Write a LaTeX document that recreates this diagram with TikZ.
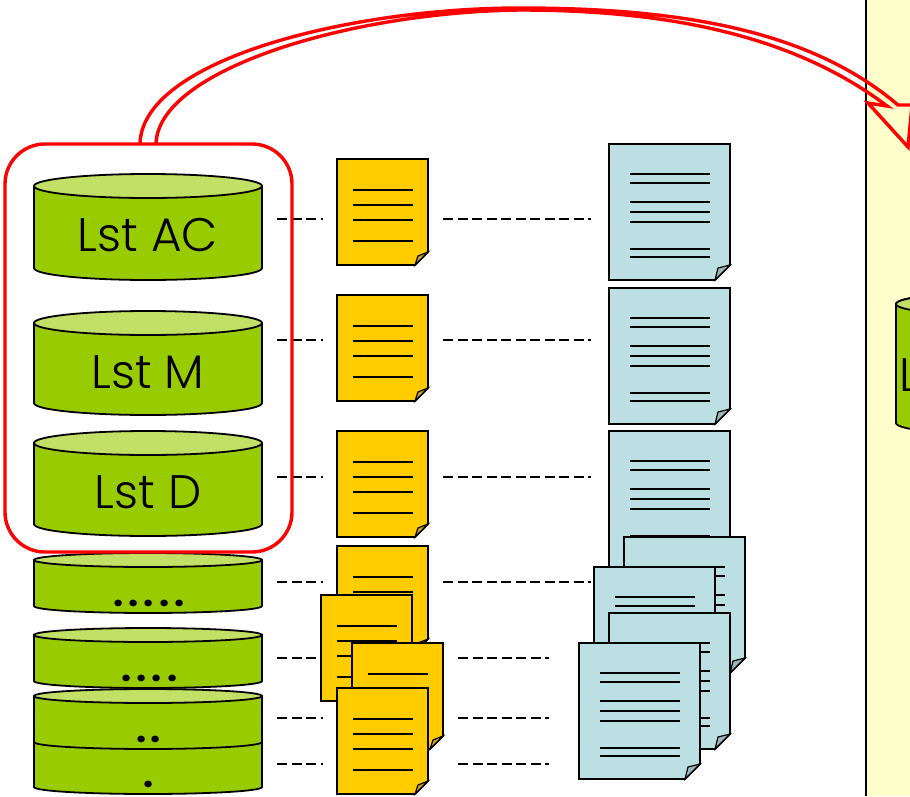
\documentclass[tikz,border=0pt]{standalone}
\usepackage{fontspec}
\setmainfont{Poppins}[UprightFont=* Light]
\newfontfamily\dotfont{Poppins}[UprightFont=* Bold]
\definecolor{drumgreen}{HTML}{99CC00}
\definecolor{drumtop}{HTML}{C2E066}
\definecolor{notegold}{HTML}{FFCC00}
\definecolor{pagecyan}{HTML}{BBDFE3}
\definecolor{paneyellow}{HTML}{FFFFCC}
\definecolor{foldcyan}{HTML}{9DB8BD}
\definecolor{foldgold}{HTML}{CFA71A}
\newcommand{\dotgap}{\kern5pt}
\tikzset{
  drumbody/.style={draw=black,line width=1.8pt,fill=drumgreen},
  drumend/.style={draw=black,line width=1.8pt,fill=drumtop},
  druglabel/.style={font=\fontsize{47}{47}\selectfont,inner sep=0pt},
  dotlabel/.style={font=\dotfont\fontsize{36}{36}\selectfont,inner sep=0pt,anchor=base},
  dashline/.style={line width=1.5pt,dash pattern=on 10pt off 4.5pt},
  goldnote/.style={draw=black,line width=1.8pt,fill=notegold},
  cyanpage/.style={draw=black,line width=1.8pt,fill=pagecyan},
  textline/.style={line width=1.5pt},
  redline/.style={draw=red,line width=3.4pt}
}
\begin{document}
\begin{tikzpicture}[x=1pt,y=-1pt]
\useasboundingbox (0,0) rectangle (910,796);
\clip (0,0) rectangle (910,796);

% right pane
\path[fill=paneyellow] (866,0) rectangle (910,796);
\draw[line width=1.8pt] (866,0) -- (866,796);
\draw[drumbody] (896,304) -- (896,423) .. controls (896,430) and (950,435) .. (1010,435)
  -- (1010,292) .. controls (950,292) and (896,297) .. cycle;
\draw[drumend] (1010,304) ellipse [x radius=114,y radius=12];
\node (labelR) [druglabel,anchor=base west] at (899,391) {L};

% list drums, last one of a stack goes first
\foreach \t/\b/\r in {186/268/12,323/403/12,443/524/12,560/606/7,635/681/7,720/787/7,696/742/7} {
  \draw[drumbody] (34,\t) -- (34,\b) .. controls (34,\b+\r*0.6) and (90,\b+\r) .. (148,\b+\r)
    .. controls (206,\b+\r) and (262,\b+\r*0.6) .. (262,\b) -- (262,\t) -- cycle;
  \draw[drumend] (148,\t) ellipse [x radius=114,y radius=\r];
}
\node (labelAC) [druglabel] at (148,235) {Lst AC};
\node (labelM) [druglabel] at (148,372) {Lst M};
\node (labelD) [druglabel] at (148,492) {Lst D};
\node (dotsE) [dotlabel] at (149,606) {.\dotgap.\dotgap.\dotgap.\dotgap.};
\node (dotsF) [dotlabel] at (149.5,681) {.\dotgap.\dotgap.\dotgap.};
\node (dotsG) [dotlabel] at (148.5,742) {.\kern4pt.};
\node (dotsH) [dotlabel] at (149,787) {.};

% dashes
\foreach \n/\y/\a/\b in {1/219/443/591,2/340/443/591,3/477/443/591,4/582/443/591,
                         5/658/458/549,6/718/458/549,7/764/458/549} {
  \coordinate (dashA\n) at (277,\y);
  \coordinate (dashB\n) at (323,\y);
  \coordinate (dashC\n) at (\a,\y);
  \coordinate (dashD\n) at (\b,\y);
  \draw[dashline] (dashA\n) -- (dashB\n);
  \draw[dashline] (dashC\n) -- (dashD\n);
}

% gold notes
\foreach \x/\y in {337/159,337/295,337/431,337/546,321/595,352/643,337/688} {
  \draw[goldnote] (\x,\y) -- ++(91,0) -- ++(0,93) -- ++(-13,13) -- ++(-78,0) -- cycle;
  \draw[goldnote,fill=foldgold,line width=1.2pt] (\x+78,\y+106) -- (\x+81,\y+97) -- (\x+91,\y+93) -- cycle;
  \foreach \d in {31,46,61,82}
    \draw[textline] (\x+16,\y+\d) -- (\x+76,\y+\d);
}

% cyan pages
\foreach \x/\y in {609/144,609/288,609/431,624/537,594/567,609/613,579/643} {
  \draw[cyanpage] (\x,\y) -- ++(121,0) -- ++(0,121) -- ++(-15,15) -- ++(-106,0) -- cycle;
  \draw[cyanpage,fill=foldcyan,line width=1.2pt] (\x+106,\y+136) -- (\x+109,\y+124) -- (\x+121,\y+121) -- cycle;
  \foreach \d in {30,39,58,68,78,105,113}
    \draw[textline] (\x+21,\y+\d) -- (\x+101,\y+\d);
}

% red box and arrow
\node (redbox) [redline,rounded corners=40pt,minimum width=287pt,minimum height=408pt,inner sep=0pt] at (148.5,348) {};
\coordinate (outerA) at (140,145);
\coordinate (innerA) at (156,145);
\draw[redline,line join=miter] (outerA)
  .. controls (140,60) and (350,8) .. (520,8)
  .. controls (680,8) and (810,30) .. (898,105)
  -- (912,105) -- (908,147) -- (868,103) -- (887,106)
  .. controls (800,40) and (680,10) .. (520,10)
  .. controls (350,12) and (156,70) .. (innerA);
\end{tikzpicture}
\end{document}
